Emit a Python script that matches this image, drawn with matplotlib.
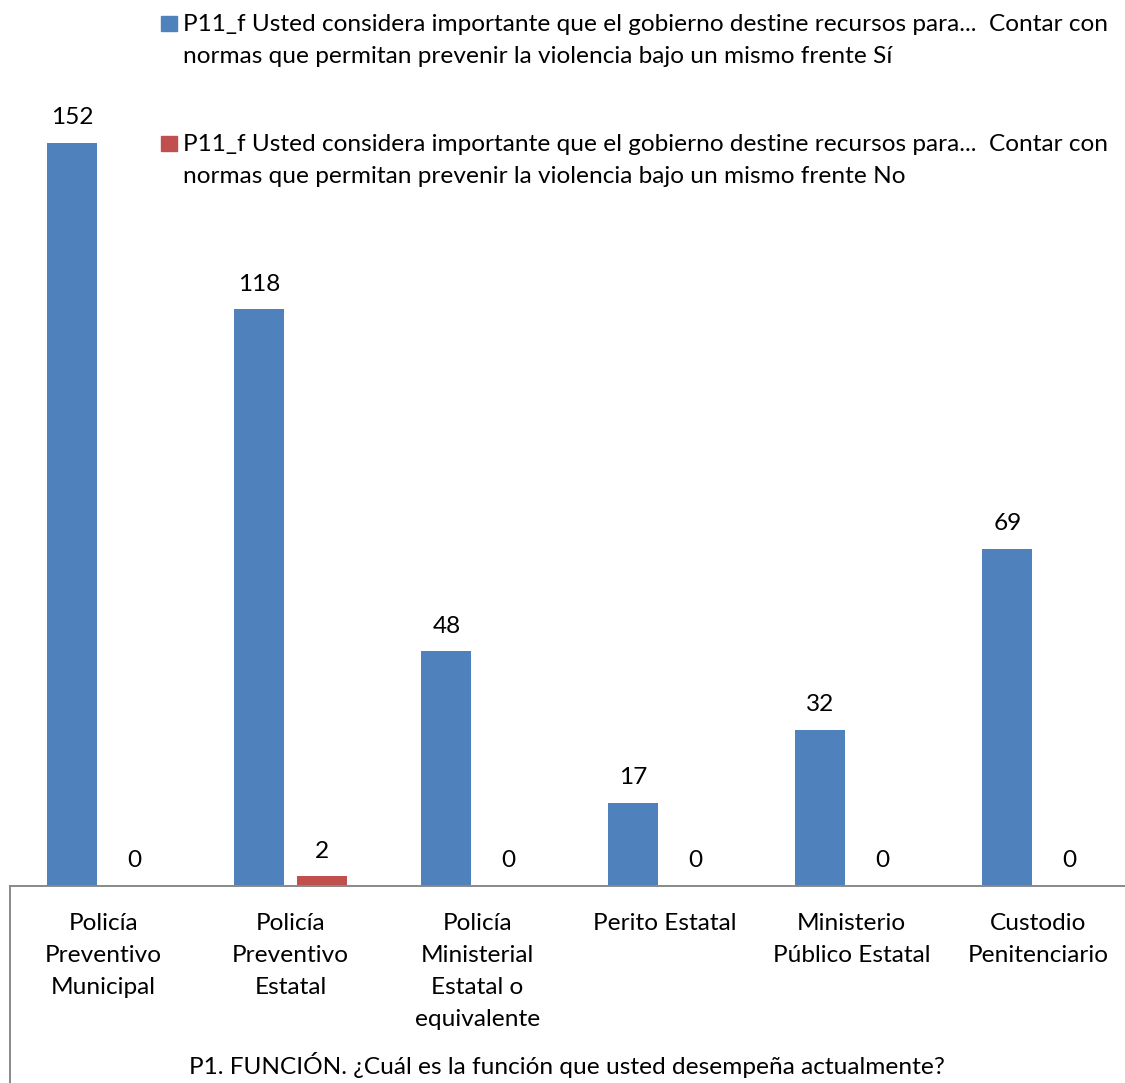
import numpy as np
import matplotlib
matplotlib.use('Agg')
import matplotlib.pyplot as plt
from matplotlib.patches import Rectangle
from matplotlib.lines import Line2D

plt.rcParams['font.family'] = ['Lato', 'DejaVu Sans']

categories = ["Policía\nPreventivo\nMunicipal", "Policía\nPreventivo\nEstatal",
              "Policía\nMinisterial\nEstatal o\nequivalente", "Perito Estatal",
              "Ministerio\nPúblico Estatal", "Custodio\nPenitenciario"]
si_vals = [152, 118, 48, 17, 32, 69]
no_vals = [0, 2, 0, 0, 0, 0]
series_names = ["P11_f Usted considera importante que el gobierno destine recursos para...  Contar con\n"
                "normas que permitan prevenir la violencia bajo un mismo frente Sí",
                "P11_f Usted considera importante que el gobierno destine recursos para...  Contar con\n"
                "normas que permitan prevenir la violencia bajo un mismo frente No"]
xtitle = "P1. FUNCIÓN. ¿Cuál es la función que usted desempeña actualmente?"

blue = '#4F81BD'
red = '#C0504D'
grey = '#898989'
fs = 17.6

W, H = 1125, 1083
fig = plt.figure(figsize=(W/100, H/100), dpi=100)
ax = fig.add_axes([10/W, (H-886)/H, 1122/W, (886-100)/H])

x = np.arange(len(categories))
off = 0.166
bw = 0.267
b1 = ax.bar(x - off, si_vals, bw, color=blue)
b2 = ax.bar(x + off, no_vals, bw, color=red)
ax.bar_label(b1, padding=10.5, fontsize=fs)
ax.bar_label(b2, padding=10.5, fontsize=fs)

ax.set_xlim(-0.5, len(categories) - 0.5)
ax.set_ylim(0, (886-100)/4.888)
ax.set_yticks([])
ax.set_xticks(x)
ax.set_xticklabels(categories, fontsize=fs, linespacing=1.65)
ax.tick_params(axis='x', length=0, pad=19.5)
for s in ['top', 'right', 'left']:
    ax.spines[s].set_visible(False)
ax.spines['bottom'].set_color(grey)
ax.spines['bottom'].set_linewidth(1.4)

ax.set_xlabel(xtitle, fontsize=fs, va='center')
ax.xaxis.set_label_coords((567-10)/1122, (886-1065)/786)

# left border of the category area
fig.add_artist(Line2D([10/W, 10/W], [0, (H-886)/H], color=grey, lw=1.4, transform=fig.transFigure))

# legend drawn at top
for i, (name, col) in enumerate(zip(series_names, [blue, red])):
    y0 = 23 + i*120
    fig.add_artist(Rectangle((161/W, 1 - (y0+8)/H), 16/W, 15/H, color=col, transform=fig.transFigure))
    fig.text(183/W, 1 - (y0+17.5)/H, name, fontsize=fs, va='center', ha='left', linespacing=1.6)

fig.savefig('out.png', dpi=100)
